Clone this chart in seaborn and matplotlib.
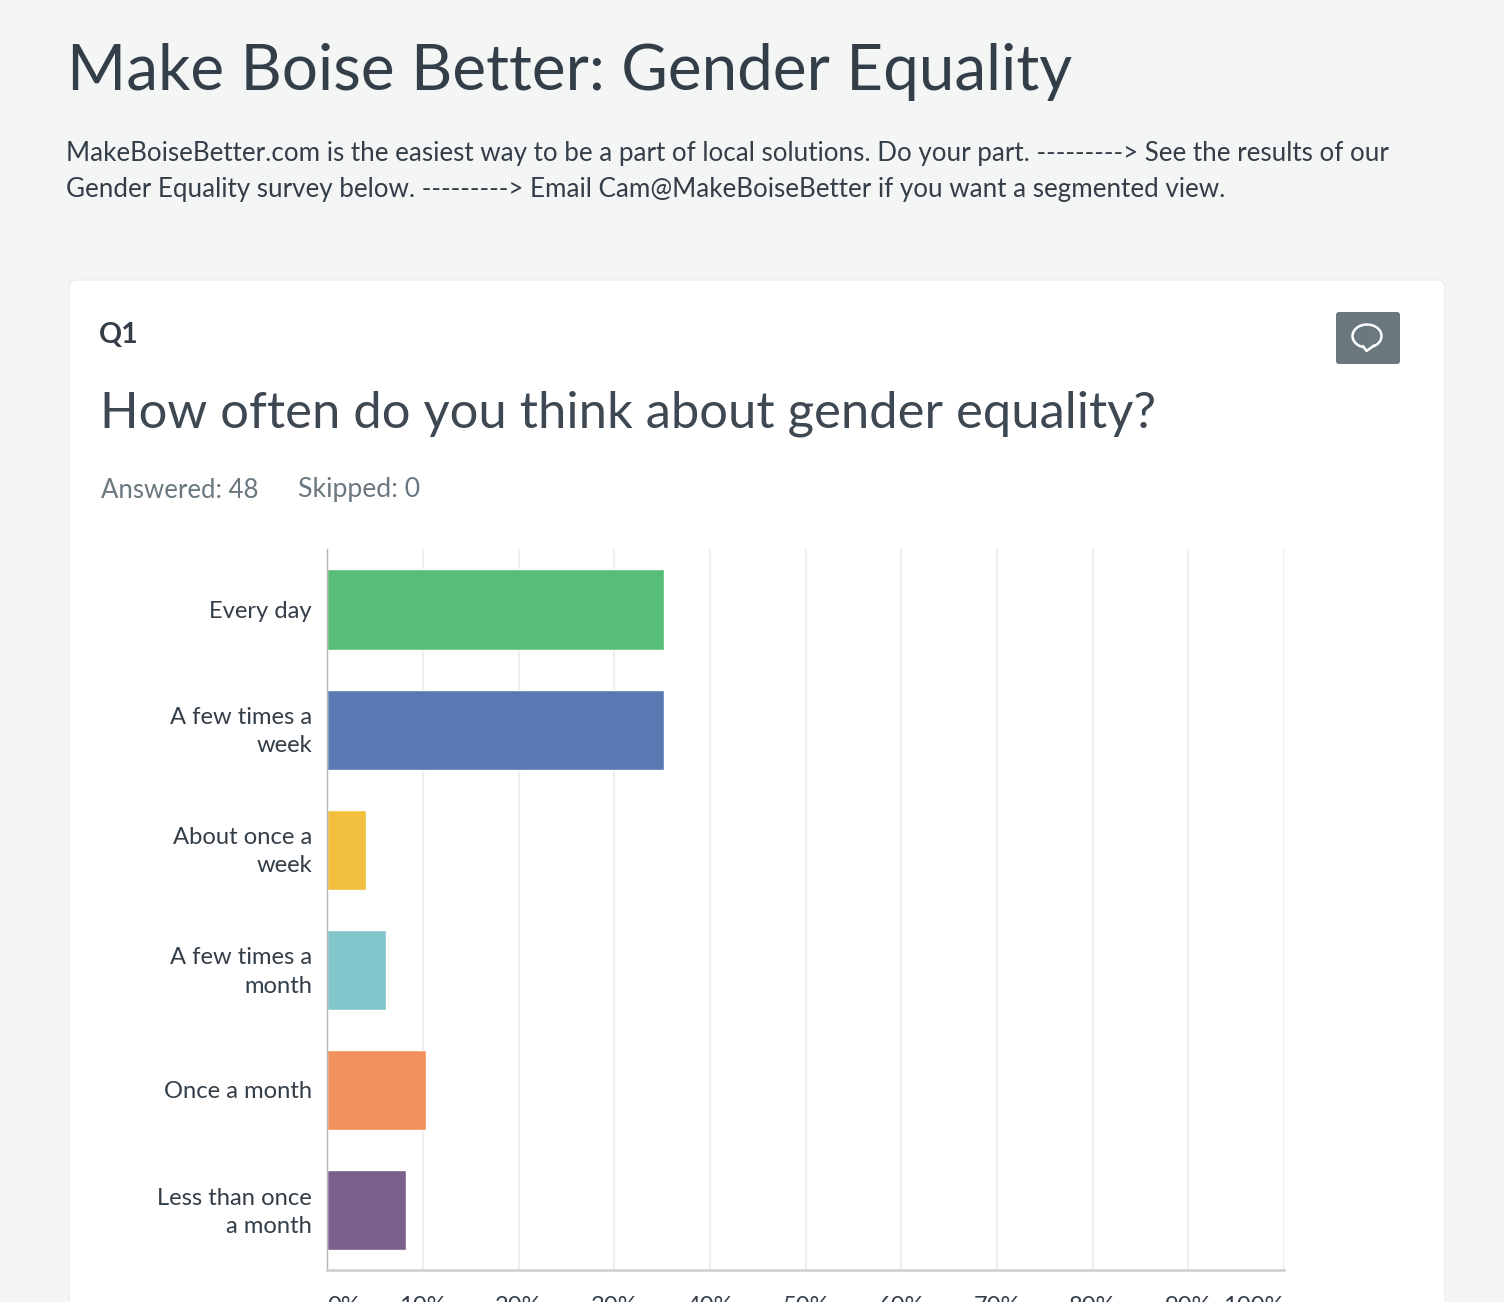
import matplotlib
matplotlib.use("Agg")
import matplotlib.pyplot as plt
import seaborn as sns
from matplotlib.patches import Ellipse, FancyBboxPatch, Polygon
from matplotlib.transforms import ScaledTranslation

# Survey answers, share of respondents in percent
categories = ["Every day", "A few times a\nweek", "About once a\nweek",
              "A few times a\nmonth", "Once a month", "Less than once\na month"]
percents = [35.2, 35.2, 4.1, 6.1, 10.3, 8.2]
bar_colors = ["#57bd77", "#5879b1", "#f2bf3f", "#82c6cb", "#f2915c", "#7a5f8a"]
tick_values = [0, 10, 20, 30, 40, 50, 60, 70, 80, 90, 100]
tick_labels = ["0%", "10%", "20%", "30%", "40%", "50%", "60%", "70%", "80%", "90%", "100%"]

W, H = 1504, 1302
BG = "#f4f6f5"
DARK = "#333e48"
GREY = "#6b787f"

sns.set_theme(style="white")
plt.rcParams["font.family"] = ["Lato", "DejaVu Sans"]

fig = plt.figure(figsize=(W / 100, H / 100), dpi=100, facecolor=BG)

# page layer in pixel coordinates
page = fig.add_axes([0, 0, 1, 1], zorder=0)
page.set_xlim(0, W)
page.set_ylim(H, 0)
page.axis("off")

card = FancyBboxPatch((69, 280), 1376, 1100, boxstyle="round,pad=0,rounding_size=8",
                      facecolor="white", edgecolor="#eceeee", linewidth=1)
page.add_patch(card)

page.text(67, 72, "Make Boise Better: Gender Equality", fontsize=45.9, color=DARK, va="center")
page.text(66, 154, "MakeBoiseBetter.com is the easiest way to be a part of local solutions. Do your part. ---------> See the results of our",
          fontsize=18.75, color=DARK, va="center")
page.text(66, 190, "Gender Equality survey below. ---------> Email Cam@MakeBoiseBetter if you want a segmented view.",
          fontsize=18.75, color=DARK, va="center")
page.text(99, 335, "Q1", fontsize=20.5, color=DARK, fontweight="bold", va="center")
page.text(100, 414, "How often do you think about gender equality?", fontsize=36.5, color="#3d4852",
          va="center")
page.text(101, 490, "Answered: 48", fontsize=18.5, color=GREY, va="center")
page.text(298, 490, "Skipped: 0", fontsize=19.2, color=GREY, va="center")

# comment button
page.add_patch(FancyBboxPatch((1336, 312), 64, 52, boxstyle="round,pad=0,rounding_size=3",
                              facecolor=GREY, edgecolor="none"))
page.add_patch(Ellipse((1367, 336), 29, 23, facecolor="none", edgecolor="white", linewidth=1.8))
page.add_patch(Polygon([[1362, 346], [1367, 351], [1374, 345]], closed=True, facecolor=GREY,
                       edgecolor="none", zorder=3))
page.plot([1363, 1366.5, 1374], [346, 351, 345.5], color="white", linewidth=1.8, zorder=4)

# chart
ax = fig.add_axes([327.2 / W, 1 - 1270.2 / H, (1284 - 327.2) / W, (1270.2 - 549.4) / H], zorder=1)
ax.patch.set_alpha(0)
sns.barplot(x=percents, y=categories, hue=categories, palette=bar_colors, legend=False,
            width=0.667, saturation=1, ax=ax)
ax.set_xlim(0, 100)
ax.set_ylim(5.5, -0.5)
ax.set_axisbelow(True)
ax.xaxis.grid(True, color="#eeeeee", linewidth=1.5)
ax.yaxis.grid(False)
for side in ["top", "right"]:
    ax.spines[side].set_visible(False)
ax.spines["left"].set_color("#b5b5b5")
ax.spines["left"].set_linewidth(1.0)
ax.spines["bottom"].set_color("#cccccc")
ax.spines["bottom"].set_linewidth(1.8)

ax.set_xticks(tick_values)
ax.set_xticklabels(tick_labels, fontsize=17.1, color=DARK)
ax.get_xticklabels()[0].set_ha("left")
ax.get_xticklabels()[-1].set_ha("right")
ax.tick_params(axis="x", length=0, pad=18.5)
ax.tick_params(axis="y", length=0, pad=11, labelsize=17.1, labelcolor=DARK)

# two-line labels sit a little higher than matplotlib centres them
nudge = ScaledTranslation(0, 2.5 / 72, fig.dpi_scale_trans)
for lab in ax.get_yticklabels():
    lab.set_linespacing(1.42)
    if "\n" in lab.get_text():
        lab.set_transform(lab.get_transform() + nudge)
ax.set_xlabel("")
ax.set_ylabel("")

fig.savefig("out.png", dpi=100, facecolor=BG)
plt.close(fig)
